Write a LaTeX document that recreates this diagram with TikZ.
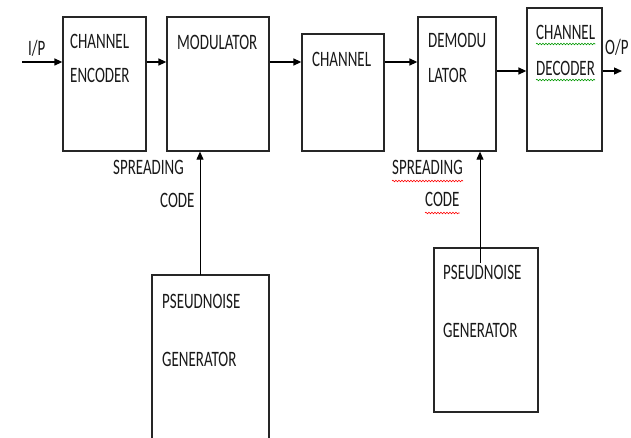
\documentclass[tikz,border=0pt]{standalone}
\usepackage{fontspec}
\setmainfont{Carlito}[FakeStretch=0.68]
\usetikzlibrary{positioning,arrows.meta,decorations.pathmorphing}

\begin{document}
\begin{tikzpicture}[x=1pt, y=-1pt,
    block/.style={draw=black!85, line width=1.3pt, rectangle, inner sep=0pt},
    lbl/.style={anchor=base west, inner sep=0pt, text=black!90, font=\fontsize{22}{22}\selectfont},
    sig/.style={line width=1.3pt, -{Triangle[length=8pt,width=7pt]}},
    squiggle/.style={decorate, decoration={snake, amplitude=0.8pt, segment length=3pt}, line width=0.6pt}]
    \clip (0,0) rectangle (631,438);

    % blocks
    \node[block, minimum width=83pt, minimum height=134pt] (enc) at (104.5,84) {};
    \node[block, minimum width=102pt, minimum height=134pt] (mod) at (218,84) {};
    \node[block, minimum width=82pt, minimum height=117pt] (chan) at (343,92.5) {};
    \node[block, minimum width=78pt, minimum height=134pt] (demod) at (457,84) {};
    \node[block, minimum width=75pt, minimum height=143pt] (dec) at (564.5,79.5) {};
    \node[block, minimum width=117pt, minimum height=180pt] (pn1) at (210.5,365) {};
    \node[block, minimum width=104pt, minimum height=164pt] (pn2) at (486,330) {};

    % texts
    \node[lbl] (encA) at (70,49) {CHANNEL};
    \node[lbl] (encB) at (70,83) {ENCODER};
    \node[lbl] (modA) at (177,50) {MODULATOR};
    \node[lbl] (chanA) at (312,67) {CHANNEL};
    \node[lbl] (demA) at (428,48) {DEMODU};
    \node[lbl] (demB) at (428,83) {LATOR};
    \node[lbl] (decA) at (536,40) {CHANNEL};
    \node[lbl] (decB) at (536,76) {DECODER};
    \node[lbl] (inp) at (28,56) {I/P};
    \node[lbl] (outp) at (605,55) {O/P};
    \node[lbl] (sp1) at (113,175) {SPREADING};
    \node[lbl] (cd1) at (160,208) {CODE};
    \node[lbl] (sp2) at (392,175) {SPREADING};
    \node[lbl] (cd2) at (425,207) {CODE};
    \node[lbl] (pnA) at (162,308) {PSEUDNOISE};
    \node[lbl] (pnB) at (162,366) {GENERATOR};
    \node[lbl] (pnC) at (443,279) {PSEUDNOISE};
    \node[lbl] (pnD) at (443,337) {GENERATOR};

    % spell-check marks
    \draw[squiggle, red] ([yshift=-6pt]sp2.base west) -- ([yshift=-6pt]sp2.base east);
    \draw[squiggle, red] ([yshift=-6pt]cd2.base west) -- ([yshift=-6pt]cd2.base east);
    \draw[squiggle, green!60!black] ([yshift=-4pt]decA.base west) -- ([yshift=-4pt]decA.base east);
    \draw[squiggle, green!60!black] ([yshift=-4pt]decB.base west) -- ([yshift=-4pt]decB.base east);

    % signal path
    \coordinate (in) at (22,62);
    \coordinate (out) at (622,71);
    \draw[sig] (in) -- (in -| enc.west);
    \draw[sig] (enc.east |- in) -- (mod.west |- in);
    \draw[sig] (mod.east |- in) -- (chan.west |- in);
    \draw[sig] (chan.east |- in) -- (demod.west |- in);
    \draw[sig] (demod.east |- out) -- (dec.west |- out);
    \draw[sig] (dec.east |- out) -- (out);

    % spreading code inputs
    \coordinate (tap1) at (200,275);
    \coordinate (tap2) at (480,263);
    \draw[sig, line width=1pt] (tap1) -- (tap1 |- mod.south);
    \draw[sig, line width=1pt] (tap2) -- (tap2 |- demod.south);
\end{tikzpicture}
\end{document}
